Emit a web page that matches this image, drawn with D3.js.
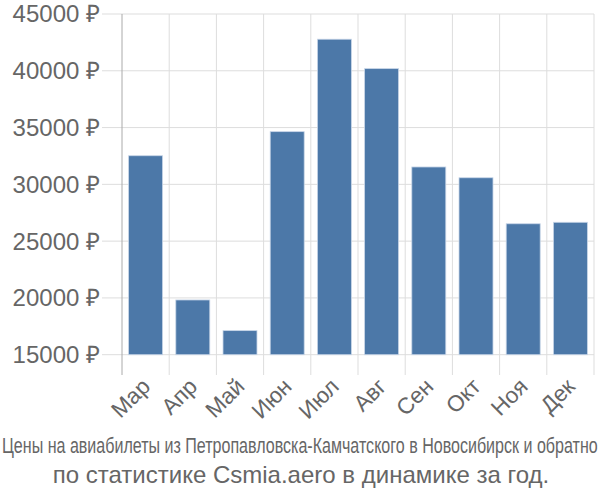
<!DOCTYPE html>
<html><head><meta charset="utf-8">
<script src="https://cdn.jsdelivr.net/npm/d3@7"></script>
<style>body{margin:0;background:#fff}</style>
</head><body>
<svg id="c" width="600" height="500"></svg>
<script>
const months = ["Мар","Апр","Май","Июн","Июл","Авг","Сен","Окт","Ноя","Дек"];
const prices = [32520, 19820, 17120, 34640, 42780, 40190, 31530, 30580, 26530, 26660];
const yTicks = [15000, 20000, 25000, 30000, 35000, 40000, 45000];
const titleLines = ["Цены на авиабилеты из Петропавловска-Камчатского в Новосибирск и обратно",
                    "по статистике Csmia.aero в динамике за год."];

const svg = d3.select("#c");
const L = 122, R = 594, T = 14, B = 354.7;
const x = d3.scaleBand().domain(months).range([L, R]).paddingInner(0.28).paddingOuter(0.14);
const y = d3.scaleLinear().domain([15000, 45000]).range([B, T]);

// horizontal grid
svg.append("g").selectAll("line").data(yTicks).join("line")
  .attr("x1", 102).attr("x2", R).attr("y1", d => y(d)).attr("y2", d => y(d))
  .attr("stroke", "#ddd").attr("stroke-width", 1);
// vertical grid
const vx = d3.range(months.length + 1).map(i => L + i * (R - L) / months.length);
svg.append("g").selectAll("line").data(vx.slice(1)).join("line")
  .attr("x1", d => d).attr("x2", d => d).attr("y1", T).attr("y2", 375)
  .attr("stroke", "#ddd").attr("stroke-width", 1);
// left axis line
svg.append("line").attr("x1", L).attr("x2", L).attr("y1", T).attr("y2", 375)
  .attr("stroke", "#aaa").attr("stroke-width", 1);

// bars
svg.append("g").selectAll("rect").data(months).join("rect")
  .attr("x", d => x(d)).attr("width", x.bandwidth())
  .attr("y", (d, i) => y(prices[i])).attr("height", (d, i) => B - y(prices[i]))
  .attr("fill", "#4c78a8").attr("stroke", "#c8d6e8").attr("stroke-width", 0.8);

// y labels
svg.append("g").selectAll("text").data(yTicks).join("text")
  .attr("x", 100).attr("y", d => y(d)).attr("dy", "0.35em")
  .attr("text-anchor", "end").attr("fill", "#666")
  .style("font", "24px 'Liberation Sans', Arial, sans-serif")
  .text(d => d + " ₽");

// x labels
svg.append("g").selectAll("text").data(months).join("text")
  .attr("transform", d => `translate(${x(d) + x.bandwidth() / 2 - 6},${376}) rotate(-45)`)
  .attr("text-anchor", "end").attr("fill", "#666").attr("dy", "0.75em")
  .style("font", "22.5px 'Liberation Sans', Arial, sans-serif")
  .text(d => d);

// title line 1 (condensed via horizontal scale)
const t1 = svg.append("text").attr("x", 0).attr("y", 0)
  .attr("fill", "#666").style("font", "22px 'Liberation Sans', Arial, sans-serif")
  .text(titleLines[0]);
const w1 = t1.node().getComputedTextLength();
t1.attr("transform", `translate(2,453) scale(${596 / w1},1)`);

svg.append("text").attr("x", 301).attr("y", 483).attr("text-anchor", "middle")
  .attr("fill", "#666").style("font", "24px 'Liberation Sans', Arial, sans-serif")
  .text(titleLines[1]);
</script>
</body></html>
